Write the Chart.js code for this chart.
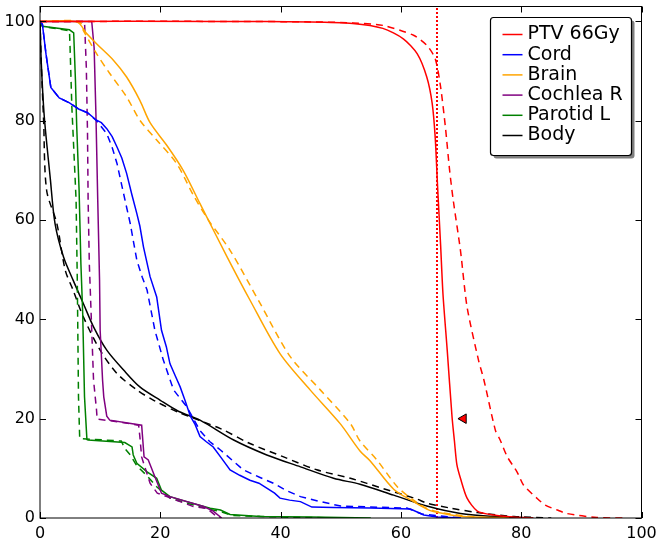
<!DOCTYPE html>
<html>
<head>
<meta charset="utf-8">
<script src="https://cdn.jsdelivr.net/npm/chart.js@4.4.1/dist/chart.umd.min.js"></script>
<style>
  html, body { margin: 0; padding: 0; background: #fff; }
  canvas { display: block; }
</style>
</head>
<body>
<canvas id="dvhChart" width="661" height="542"></canvas>
<script>
// Cumulative DVH: dose (Gy) vs volume (%), plan (solid) and reference (dashed)
var structures = ['PTV 66Gy', 'Cord', 'Brain', 'Cochlea R', 'Parotid L', 'Body'];
var colours = ['#ff0000', '#0000ff', '#ffa500', '#800080', '#008000', '#000000'];
// smooth curves get a little bezier tension, stepped ones stay straight
var curveTension = [0.25, 0, 0.3, 0, 0, 0.3];

var ptvPlan = [[0,100],[30,100],[45,99.9],[52,99.6],[57,98.6],[60.4,96.5],[62.7,93.5],[64.3,88.8],[65.2,83.5],[65.7,76.7],[66.1,66.7],[66.6,55],[67.0,45],[67.7,33.8],[68.5,20.4],[68.9,15.5],[69.3,10.8],[69.9,8.0],[71,4],[72.7,1.4],[75.4,0.6],[78.6,0.2],[82,0]];
var ptvRef = [[0,100],[30,100],[45,99.9],[52,99.7],[57,99.2],[62.1,97.2],[64.3,95.2],[65.7,92.5],[66.6,86.8],[67.4,78.7],[68.1,70],[68.7,64],[69.9,53.9],[71,42.5],[72.9,31.8],[73.8,27.8],[75.7,17.7],[76.5,15.7],[77.7,12.3],[79.3,9.3],[80.4,6.6],[82.6,4.0],[84,2.6],[86,1.6],[87.6,0.9],[92.6,0.1],[97,0]];

var cordPlan = [[0,100],[0.4,99.4],[1.0,93.4],[1.8,86.7],[3.2,84.6],[4.9,83.6],[6.5,82.3],[7.9,81.6],[9.4,80.1],[10.2,79.6],[11.1,78.4],[12.0,76.8],[12.8,74.7],[13.6,72.5],[14.4,69.4],[15.3,65],[16.1,61.3],[16.6,58.8],[17.2,54.6],[18.3,48.6],[19.4,44.5],[20.2,37.8],[21.0,34.5],[21.6,31.1],[22.5,28.6],[23.3,26.4],[24.1,23.7],[25,20.5],[25.8,18.8],[26.6,16.4],[27.6,15.4],[28.8,14.3],[30.2,12.0],[31.6,9.7],[33.2,8.6],[34.9,7.6],[36.4,7.0],[37.7,6.0],[39.0,5.0],[39.9,4.0],[41.5,3.6],[43.3,3.3],[45.2,2.2],[48.8,2.1],[55,2.0],[61.6,1.8],[63.8,0.6],[66,0.2],[70,0]];
var cordRef = [[0,100],[0.4,99.4],[1.0,93.4],[1.8,86.7],[3.2,84.6],[4.9,83.6],[6.5,82.3],[7.9,81.6],[9.4,80.0],[11.1,77.4],[12.0,74.6],[12.8,71.4],[13.9,65.3],[15,59.3],[16.1,51.9],[17.0,48.5],[17.8,45.9],[19.1,37.8],[20.5,31.8],[22.2,25.8],[24.4,22.4],[26.6,17.6],[28.2,15.4],[30,13.7],[33.8,9.7],[36.5,8.2],[38.8,7.0],[41,5.5],[43.3,4.3],[46.6,3.3],[50,2.4],[61,2.0],[63.5,0.8],[70,0]];

var brainPlan = [[0,100],[6.1,99.9],[7.8,97.5],[9.4,95.5],[12.2,92.2],[14.4,88.8],[16.6,84.1],[18.3,79.6],[21.1,75],[23.8,70],[26.6,63.3],[31.1,52.6],[34.9,43.9],[39.9,33.1],[44.9,25.8],[49.9,19],[53.2,13.5],[54.9,11.5],[58.8,5.8],[62.1,3.3],[64.3,1.8],[65.4,1.3],[69.9,0.35],[78,0]];
var brainRef = [[0,100],[6.5,100],[7.2,98.2],[9.4,93.5],[11.6,89.5],[14.4,84.8],[16.6,80.1],[19.4,76.1],[22.7,71.4],[25.5,65],[28,60],[31.6,53.9],[36.6,43.2],[41.6,32.5],[46.6,25.8],[51.6,19],[53.2,15.5],[56,11.7],[59.4,6.3],[62.1,3.6],[65,1.6],[70,0.5],[75,0]];

var cochleaPlan = [[0,100],[8.6,100],[9.0,94.7],[9.3,81.2],[9.6,64],[9.9,47.9],[10.0,37.8],[10.4,27.8],[10.6,24.4],[11.1,20.5],[11.6,19.7],[16.9,18.7],[17.3,12.3],[18,11.7],[19.1,8.3],[20.2,5.0],[21.6,4.3],[27.2,2.3],[28.8,1.4],[30.2,0]];
var cochleaRef = [[0,100],[7.4,100],[7.7,90.8],[7.9,77.4],[8.0,64],[8.2,51.2],[8.6,37.8],[8.9,27.8],[9.4,21.7],[9.5,19.9],[12.8,19.4],[16.4,18.7],[16.6,16.4],[16.9,12.3],[17.5,10],[18.3,7.0],[19.5,5.0],[21.1,4.3],[25.5,2.3],[27.7,1.95],[29.4,0.3],[30,0]];

var parotidPlan = [[0,100],[0.4,99],[4.9,98.3],[5.6,97.7],[5.9,87.9],[6.1,79],[6.5,66],[6.8,51.2],[7.1,41.2],[7.4,24.4],[7.8,15.8],[8.0,15.7],[14.1,15.2],[15.3,14.3],[15.5,12.7],[16.1,11.0],[17.8,9.3],[19.4,8.0],[20.2,5.6],[21.6,4.3],[24.4,3.3],[28.3,1.95],[30,1.6],[31.6,0.7],[36.6,0.3],[45,0.2],[55,0]];
var parotidRef = [[0,100],[0.4,99],[4.9,98.1],[5.0,94.7],[5.3,82.6],[5.5,77.4],[6.0,64],[6.2,47.9],[6.4,24.4],[6.6,16],[13.5,15.5],[14.1,14],[15,12.7],[16.1,10.5],[17.8,8.5],[19.4,6.3],[21.6,4],[24.4,3.0],[28.3,1.7],[30,1.3],[32,0.5],[40,0.2],[50,0]];

var bodyPlan = [[0,100],[0.2,92],[0.7,81],[1.7,68.5],[2.5,59.3],[3.9,52.6],[5.5,47.9],[7.2,43.2],[8.9,38.5],[11.1,33.8],[13.9,29.8],[16.6,26.4],[20,23.7],[23,21.5],[26.6,19.7],[32.2,15.7],[37.7,12.7],[43.3,10.3],[48.8,8.0],[53.2,6.8],[58.8,4.6],[64.3,2.4],[69.9,0.9],[75.4,0.3],[82,0]];
var bodyRef = [[0,100],[0.2,92],[0.6,80],[1.1,66],[2.8,59.3],[4.2,49.9],[5.5,45.9],[7.2,40.5],[10,33.8],[12.8,29.1],[16.1,25.8],[18.9,23.7],[23,21.3],[30,18],[34.9,15],[40.5,12.3],[46,9.7],[51.6,8.0],[57.1,5.9],[62.7,3.8],[64.3,3.0],[68.2,2.0],[72.7,1.1],[78.8,0.3],[85,0]];

var planCurves = [ptvPlan, cordPlan, brainPlan, cochleaPlan, parotidPlan, bodyPlan];
var refCurves = [ptvRef, cordRef, brainRef, cochleaRef, parotidRef, bodyRef];

var prescriptionDose = 66;
var markerPoint = [70.4, 20];

var xTicks = [0, 20, 40, 60, 80, 100];
var yTicks = [0, 20, 40, 60, 80, 100];

function toPoints(arr) {
  return arr.map(function (p) { return { x: p[0], y: p[1] }; });
}

var datasets = [];
structures.forEach(function (name, i) {
  datasets.push({
    label: name,
    data: toPoints(planCurves[i]),
    borderColor: colours[i],
    borderWidth: 1.5,
    tension: curveTension[i],
    showLine: true,
    pointRadius: 0,
    fill: false
  });
  datasets.push({
    label: name + ' (ref)',
    data: toPoints(refCurves[i]),
    borderColor: colours[i],
    borderWidth: 1.5,
    borderDash: [7, 5],
    tension: curveTension[i],
    showLine: true,
    pointRadius: 0,
    fill: false
  });
});

// prescription dose line
datasets.push({
  label: 'Rx',
  data: [{ x: prescriptionDose, y: 0 }, { x: prescriptionDose, y: 103 }],
  borderColor: '#ff0000',
  borderWidth: 2,
  borderDash: [2, 2],
  showLine: true,
  pointRadius: 0
});

// marker pointing left
datasets.push({
  label: 'marker',
  data: [{ x: markerPoint[0], y: markerPoint[1] }],
  showLine: false,
  pointStyle: 'triangle',
  rotation: -90,
  pointRadius: 5.5,
  pointBackgroundColor: '#ff0000',
  pointBorderColor: '#000000',
  pointBorderWidth: 1
});

var whiteBg = {
  id: 'whiteBg',
  beforeDraw: function (chart) {
    var ctx = chart.ctx;
    ctx.save();
    ctx.fillStyle = '#ffffff';
    ctx.fillRect(0, 0, chart.width, chart.height);
    ctx.restore();
  }
};

// axes box with inward ticks on all four sides
var frame = {
  id: 'frame',
  afterDatasetsDraw: function (chart) {
    var ctx = chart.ctx;
    var a = chart.chartArea;
    var xs = chart.scales.x, ys = chart.scales.y;
    var len = 6;
    ctx.save();
    ctx.strokeStyle = '#000000';
    ctx.lineWidth = 1;
    ctx.strokeRect(a.left, a.top, a.right - a.left, a.bottom - a.top);
    ctx.beginPath();
    xTicks.forEach(function (v) {
      var px = Math.round(xs.getPixelForValue(v)) + 0.5;
      ctx.moveTo(px, a.bottom); ctx.lineTo(px, a.bottom - len);
      ctx.moveTo(px, a.top); ctx.lineTo(px, a.top + len);
    });
    yTicks.forEach(function (v) {
      var py = Math.round(ys.getPixelForValue(v)) + 0.5;
      ctx.moveTo(a.left, py); ctx.lineTo(a.left + len, py);
      ctx.moveTo(a.right, py); ctx.lineTo(a.right - len, py);
    });
    ctx.stroke();
    ctx.restore();
  }
};

var legendBox = {
  id: 'legendBox',
  afterDraw: function (chart) {
    var ctx = chart.ctx;
    var a = chart.chartArea;
    var w = 141, h = 138, r = 3;
    var x0 = a.right - 10 - w, y0 = a.top + 11;
    function box(x, y) {
      ctx.beginPath();
      ctx.moveTo(x + r, y);
      ctx.lineTo(x + w - r, y);
      ctx.arcTo(x + w, y, x + w, y + r, r);
      ctx.lineTo(x + w, y + h - r);
      ctx.arcTo(x + w, y + h, x + w - r, y + h, r);
      ctx.lineTo(x + r, y + h);
      ctx.arcTo(x, y + h, x, y + h - r, r);
      ctx.lineTo(x, y + r);
      ctx.arcTo(x, y, x + r, y, r);
      ctx.closePath();
    }
    ctx.save();
    box(x0 + 3, y0 + 3);
    ctx.fillStyle = '#7f7f7f';
    ctx.fill();
    box(x0, y0);
    ctx.fillStyle = '#ffffff';
    ctx.fill();
    ctx.strokeStyle = '#000000';
    ctx.lineWidth = 1.2;
    ctx.stroke();
    ctx.font = '19px "DejaVu Sans"';
    ctx.textBaseline = 'middle';
    ctx.fillStyle = '#000000';
    structures.forEach(function (name, i) {
      var y = y0 + 17 + i * 20.2;
      ctx.beginPath();
      ctx.strokeStyle = colours[i];
      ctx.lineWidth = 1.5;
      ctx.moveTo(x0 + 12, y);
      ctx.lineTo(x0 + 32, y);
      ctx.stroke();
      ctx.fillText(name, x0 + 37, y);
    });
    ctx.restore();
  }
};

var ctx = document.getElementById('dvhChart').getContext('2d');

var dvhChart = new Chart(ctx, {
  type: 'scatter',
  data: { datasets: datasets },
  options: {
    responsive: false,
    animation: false,
    layout: { padding: { top: 6, right: 19.5, left: 0, bottom: 0 } },
    plugins: {
      legend: { display: false },
      tooltip: { enabled: false }
    },
    scales: {
      x: {
        type: 'linear',
        min: 0,
        max: 100,
        grid: { display: false, drawTicks: false },
        border: { display: false },
        afterBuildTicks: function (scale) {
          scale.ticks = xTicks.map(function (v) { return { value: v }; });
        },
        afterFit: function (scale) {
          scale.height = 24;
          scale.paddingLeft = 0;
          scale.paddingRight = 0;
        },
        ticks: {
          color: '#000000',
          padding: 6,
          maxRotation: 0,
          font: { family: 'DejaVu Sans', size: 16 }
        }
      },
      y: {
        type: 'linear',
        min: 0,
        max: 103,
        grid: { display: false, drawTicks: false },
        border: { display: false },
        afterBuildTicks: function (scale) {
          scale.ticks = yTicks.map(function (v) { return { value: v }; });
        },
        afterFit: function (scale) {
          scale.width = 40;
          scale.paddingTop = 0;
          scale.paddingBottom = 0;
        },
        ticks: {
          color: '#000000',
          padding: 5,
          font: { family: 'DejaVu Sans', size: 16 }
        }
      }
    }
  },
  plugins: [whiteBg, frame, legendBox]
});
</script>
</body>
</html>
